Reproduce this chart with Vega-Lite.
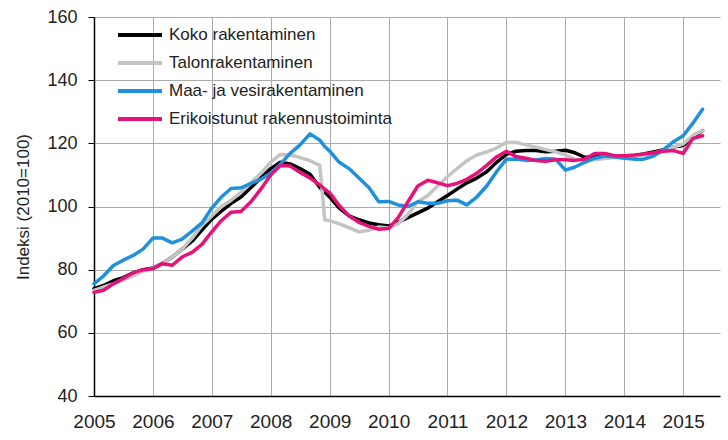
{
  "$schema": "https://vega.github.io/schema/vega-lite/v6.json",
  "autosize": {"type": "none"},
  "padding": {"left": 94, "top": 17, "right": 8, "bottom": 44},
  "width": 626,
  "height": 379,
  "background": "white",
  "config": {
    "view": {"stroke": null},
    "font": "Liberation Sans",
    "axis": {"gridColor": "#ABABAB", "gridWidth": 1, "domainColor": "#000000", "domainWidth": 1.5, "tickColor": "#000000", "labelColor": "#222222", "titleColor": "#222222"}
  },
  "data": {
    "values": [
      {"date": "2005-01-01", "Koko rakentaminen": 74, "Talonrakentaminen": 73.4, "Maa- ja vesirakentaminen": 75.5, "Erikoistunut rakennustoiminta": 72.8},
      {"date": "2005-03-01", "Koko rakentaminen": 75, "Talonrakentaminen": 74.5, "Maa- ja vesirakentaminen": 78, "Erikoistunut rakennustoiminta": 73.5},
      {"date": "2005-05-01", "Koko rakentaminen": 76.5, "Talonrakentaminen": 75.5, "Maa- ja vesirakentaminen": 81.3, "Erikoistunut rakennustoiminta": 75.5},
      {"date": "2005-07-01", "Koko rakentaminen": 77.5, "Talonrakentaminen": 76.8, "Maa- ja vesirakentaminen": 83, "Erikoistunut rakennustoiminta": 77.2},
      {"date": "2005-09-01", "Koko rakentaminen": 79, "Talonrakentaminen": 78, "Maa- ja vesirakentaminen": 84.5, "Erikoistunut rakennustoiminta": 79},
      {"date": "2005-11-01", "Koko rakentaminen": 80, "Talonrakentaminen": 79.5, "Maa- ja vesirakentaminen": 86.5, "Erikoistunut rakennustoiminta": 80},
      {"date": "2006-01-01", "Koko rakentaminen": 80.5, "Talonrakentaminen": 80.5, "Maa- ja vesirakentaminen": 90, "Erikoistunut rakennustoiminta": 80.3},
      {"date": "2006-03-01", "Koko rakentaminen": 82, "Talonrakentaminen": 82, "Maa- ja vesirakentaminen": 90, "Erikoistunut rakennustoiminta": 81.9},
      {"date": "2006-05-01", "Koko rakentaminen": 84, "Talonrakentaminen": 84, "Maa- ja vesirakentaminen": 88.5, "Erikoistunut rakennustoiminta": 81.4},
      {"date": "2006-07-01", "Koko rakentaminen": 86.5, "Talonrakentaminen": 86.5, "Maa- ja vesirakentaminen": 89.7, "Erikoistunut rakennustoiminta": 84},
      {"date": "2006-09-01", "Koko rakentaminen": 89, "Talonrakentaminen": 90, "Maa- ja vesirakentaminen": 92.2, "Erikoistunut rakennustoiminta": 85.5},
      {"date": "2006-11-01", "Koko rakentaminen": 92.5, "Talonrakentaminen": 94, "Maa- ja vesirakentaminen": 94.8, "Erikoistunut rakennustoiminta": 88},
      {"date": "2007-01-01", "Koko rakentaminen": 96, "Talonrakentaminen": 97, "Maa- ja vesirakentaminen": 99.5, "Erikoistunut rakennustoiminta": 92},
      {"date": "2007-03-01", "Koko rakentaminen": 98.5, "Talonrakentaminen": 100, "Maa- ja vesirakentaminen": 103, "Erikoistunut rakennustoiminta": 95.5},
      {"date": "2007-05-01", "Koko rakentaminen": 101, "Talonrakentaminen": 102, "Maa- ja vesirakentaminen": 105.7, "Erikoistunut rakennustoiminta": 98.2},
      {"date": "2007-07-01", "Koko rakentaminen": 103, "Talonrakentaminen": 104.5, "Maa- ja vesirakentaminen": 105.9, "Erikoistunut rakennustoiminta": 98.4},
      {"date": "2007-09-01", "Koko rakentaminen": 106, "Talonrakentaminen": 107.5, "Maa- ja vesirakentaminen": 107.3, "Erikoistunut rakennustoiminta": 101.5},
      {"date": "2007-11-01", "Koko rakentaminen": 109, "Talonrakentaminen": 110.5, "Maa- ja vesirakentaminen": 108.6, "Erikoistunut rakennustoiminta": 105.5},
      {"date": "2008-01-01", "Koko rakentaminen": 112, "Talonrakentaminen": 114, "Maa- ja vesirakentaminen": 110.5, "Erikoistunut rakennustoiminta": 110},
      {"date": "2008-03-01", "Koko rakentaminen": 114, "Talonrakentaminen": 116.5, "Maa- ja vesirakentaminen": 113.4, "Erikoistunut rakennustoiminta": 113},
      {"date": "2008-05-01", "Koko rakentaminen": 113.5, "Talonrakentaminen": 116.3, "Maa- ja vesirakentaminen": 116.8, "Erikoistunut rakennustoiminta": 112.8},
      {"date": "2008-07-01", "Koko rakentaminen": 112, "Talonrakentaminen": 115.5, "Maa- ja vesirakentaminen": 119.5, "Erikoistunut rakennustoiminta": 110.8},
      {"date": "2008-09-01", "Koko rakentaminen": 110.2, "Talonrakentaminen": 114.5, "Maa- ja vesirakentaminen": 123, "Erikoistunut rakennustoiminta": 109},
      {"date": "2008-11-01", "Koko rakentaminen": 106, "Talonrakentaminen": 113, "Maa- ja vesirakentaminen": 121, "Erikoistunut rakennustoiminta": 106.8},
      {"date": "2008-12-01", "Koko rakentaminen": 104.5, "Talonrakentaminen": 95.8, "Maa- ja vesirakentaminen": 119, "Erikoistunut rakennustoiminta": 105.5},
      {"date": "2009-01-01", "Koko rakentaminen": 103, "Talonrakentaminen": 95.5, "Maa- ja vesirakentaminen": 117.5, "Erikoistunut rakennustoiminta": 104.3},
      {"date": "2009-03-01", "Koko rakentaminen": 99.5, "Talonrakentaminen": 94.5, "Maa- ja vesirakentaminen": 114, "Erikoistunut rakennustoiminta": 100.3},
      {"date": "2009-05-01", "Koko rakentaminen": 97, "Talonrakentaminen": 93.3, "Maa- ja vesirakentaminen": 112, "Erikoistunut rakennustoiminta": 97},
      {"date": "2009-07-01", "Koko rakentaminen": 95.8, "Talonrakentaminen": 92, "Maa- ja vesirakentaminen": 109, "Erikoistunut rakennustoiminta": 95},
      {"date": "2009-09-01", "Koko rakentaminen": 94.8, "Talonrakentaminen": 92.5, "Maa- ja vesirakentaminen": 106, "Erikoistunut rakennustoiminta": 93.7},
      {"date": "2009-11-01", "Koko rakentaminen": 94.2, "Talonrakentaminen": 93.5, "Maa- ja vesirakentaminen": 101.5, "Erikoistunut rakennustoiminta": 92.8},
      {"date": "2010-01-01", "Koko rakentaminen": 93.8, "Talonrakentaminen": 93.2, "Maa- ja vesirakentaminen": 101.6, "Erikoistunut rakennustoiminta": 93},
      {"date": "2010-03-01", "Koko rakentaminen": 95, "Talonrakentaminen": 94.5, "Maa- ja vesirakentaminen": 100.5, "Erikoistunut rakennustoiminta": 96.5},
      {"date": "2010-05-01", "Koko rakentaminen": 96.5, "Talonrakentaminen": 97.5, "Maa- ja vesirakentaminen": 100, "Erikoistunut rakennustoiminta": 101.5},
      {"date": "2010-07-01", "Koko rakentaminen": 98, "Talonrakentaminen": 101.5, "Maa- ja vesirakentaminen": 101.5, "Erikoistunut rakennustoiminta": 106.5},
      {"date": "2010-09-01", "Koko rakentaminen": 99.5, "Talonrakentaminen": 103.5, "Maa- ja vesirakentaminen": 101, "Erikoistunut rakennustoiminta": 108.3},
      {"date": "2010-11-01", "Koko rakentaminen": 101.5, "Talonrakentaminen": 106.5, "Maa- ja vesirakentaminen": 101, "Erikoistunut rakennustoiminta": 107.5},
      {"date": "2011-01-01", "Koko rakentaminen": 103.5, "Talonrakentaminen": 109.5, "Maa- ja vesirakentaminen": 101.8, "Erikoistunut rakennustoiminta": 106.6},
      {"date": "2011-03-01", "Koko rakentaminen": 105.5, "Talonrakentaminen": 112, "Maa- ja vesirakentaminen": 102, "Erikoistunut rakennustoiminta": 107.3},
      {"date": "2011-05-01", "Koko rakentaminen": 107.5, "Talonrakentaminen": 114.5, "Maa- ja vesirakentaminen": 100.5, "Erikoistunut rakennustoiminta": 108.6},
      {"date": "2011-07-01", "Koko rakentaminen": 109, "Talonrakentaminen": 116.3, "Maa- ja vesirakentaminen": 103, "Erikoistunut rakennustoiminta": 110.5},
      {"date": "2011-09-01", "Koko rakentaminen": 111, "Talonrakentaminen": 117.3, "Maa- ja vesirakentaminen": 106.5, "Erikoistunut rakennustoiminta": 113},
      {"date": "2011-11-01", "Koko rakentaminen": 114, "Talonrakentaminen": 118.5, "Maa- ja vesirakentaminen": 111, "Erikoistunut rakennustoiminta": 115.7},
      {"date": "2012-01-01", "Koko rakentaminen": 116.5, "Talonrakentaminen": 120.3, "Maa- ja vesirakentaminen": 115, "Erikoistunut rakennustoiminta": 117.5},
      {"date": "2012-03-01", "Koko rakentaminen": 117.5, "Talonrakentaminen": 120.3, "Maa- ja vesirakentaminen": 115, "Erikoistunut rakennustoiminta": 115.8},
      {"date": "2012-05-01", "Koko rakentaminen": 117.7, "Talonrakentaminen": 119.5, "Maa- ja vesirakentaminen": 114.6, "Erikoistunut rakennustoiminta": 115.3},
      {"date": "2012-07-01", "Koko rakentaminen": 117.7, "Talonrakentaminen": 118.8, "Maa- ja vesirakentaminen": 114.7, "Erikoistunut rakennustoiminta": 114.6},
      {"date": "2012-09-01", "Koko rakentaminen": 117.3, "Talonrakentaminen": 118, "Maa- ja vesirakentaminen": 115.2, "Erikoistunut rakennustoiminta": 114.3},
      {"date": "2012-11-01", "Koko rakentaminen": 117.5, "Talonrakentaminen": 117.3, "Maa- ja vesirakentaminen": 115, "Erikoistunut rakennustoiminta": 114.8},
      {"date": "2013-01-01", "Koko rakentaminen": 117.8, "Talonrakentaminen": 116.3, "Maa- ja vesirakentaminen": 111.5, "Erikoistunut rakennustoiminta": 114.8},
      {"date": "2013-03-01", "Koko rakentaminen": 117, "Talonrakentaminen": 115, "Maa- ja vesirakentaminen": 112.5, "Erikoistunut rakennustoiminta": 114.6},
      {"date": "2013-05-01", "Koko rakentaminen": 115.6, "Talonrakentaminen": 114.6, "Maa- ja vesirakentaminen": 114, "Erikoistunut rakennustoiminta": 115},
      {"date": "2013-07-01", "Koko rakentaminen": 115.7, "Talonrakentaminen": 114.8, "Maa- ja vesirakentaminen": 115.3, "Erikoistunut rakennustoiminta": 116.8},
      {"date": "2013-09-01", "Koko rakentaminen": 116, "Talonrakentaminen": 115.2, "Maa- ja vesirakentaminen": 116, "Erikoistunut rakennustoiminta": 116.8},
      {"date": "2013-11-01", "Koko rakentaminen": 115.8, "Talonrakentaminen": 115.5, "Maa- ja vesirakentaminen": 115.7, "Erikoistunut rakennustoiminta": 116.1},
      {"date": "2014-01-01", "Koko rakentaminen": 115.7, "Talonrakentaminen": 115.8, "Maa- ja vesirakentaminen": 115.3, "Erikoistunut rakennustoiminta": 116.1},
      {"date": "2014-03-01", "Koko rakentaminen": 116, "Talonrakentaminen": 116, "Maa- ja vesirakentaminen": 115, "Erikoistunut rakennustoiminta": 116.3},
      {"date": "2014-05-01", "Koko rakentaminen": 116.6, "Talonrakentaminen": 116.3, "Maa- ja vesirakentaminen": 115, "Erikoistunut rakennustoiminta": 116.6},
      {"date": "2014-07-01", "Koko rakentaminen": 117.3, "Talonrakentaminen": 116.8, "Maa- ja vesirakentaminen": 116, "Erikoistunut rakennustoiminta": 117},
      {"date": "2014-09-01", "Koko rakentaminen": 118, "Talonrakentaminen": 117.8, "Maa- ja vesirakentaminen": 118, "Erikoistunut rakennustoiminta": 117.5},
      {"date": "2014-11-01", "Koko rakentaminen": 118.8, "Talonrakentaminen": 118.8, "Maa- ja vesirakentaminen": 120.5, "Erikoistunut rakennustoiminta": 117.7},
      {"date": "2015-01-01", "Koko rakentaminen": 119.3, "Talonrakentaminen": 119.8, "Maa- ja vesirakentaminen": 122.4, "Erikoistunut rakennustoiminta": 116.8},
      {"date": "2015-03-01", "Koko rakentaminen": 122, "Talonrakentaminen": 122.5, "Maa- ja vesirakentaminen": 126.3, "Erikoistunut rakennustoiminta": 121.5},
      {"date": "2015-05-01", "Koko rakentaminen": 124, "Talonrakentaminen": 124, "Maa- ja vesirakentaminen": 130.8, "Erikoistunut rakennustoiminta": 122.4}
    ]
  },
  "transform": [
    {"fold": ["Koko rakentaminen", "Talonrakentaminen", "Maa- ja vesirakentaminen", "Erikoistunut rakennustoiminta"], "as": ["sarja", "arvo"]}
  ],
  "mark": {"type": "line", "strokeWidth": 3.5, "strokeJoin": "round", "strokeCap": "round"},
  "encoding": {
    "x": {
      "field": "date", "type": "temporal",
      "scale": {"domain": [{"year": 2005, "month": 1, "date": 1}, {"year": 2015, "month": 8, "date": 17}]},
      "axis": {"title": null, "format": "%Y", "tickCount": {"interval": "year", "step": 1}, "labelFontSize": 19, "labelPadding": 16, "ticks": false, "grid": true, "labelFlush": false, "labelOverlap": false}
    },
    "y": {
      "field": "arvo", "type": "quantitative",
      "scale": {"domain": [40, 160], "nice": false, "zero": false},
      "axis": {"title": "Indeksi (2010=100)", "titleFontSize": 17, "titleFontWeight": "normal", "titlePadding": 14, "values": [40, 60, 80, 100, 120, 140, 160], "labelFontSize": 18, "tickSize": 6, "labelPadding": 11, "grid": true}
    },
    "color": {
      "field": "sarja", "type": "nominal",
      "scale": {
        "domain": ["Koko rakentaminen", "Talonrakentaminen", "Maa- ja vesirakentaminen", "Erikoistunut rakennustoiminta"],
        "range": ["#000000", "#C4C4C4", "#1E90DC", "#E5127A"]
      },
      "legend": {
        "title": null, "orient": "none", "legendX": 30, "legendY": 2,
        "symbolType": "M-1.57,0H1.57", "symbolStrokeWidth": 4, "symbolSize": 784,
        "labelFontSize": 17, "labelColor": "#222222", "rowPadding": 4, "labelOffset": 13,
        "labelLimit": 0
      }
    },
    "order": {"field": "date", "type": "temporal"}
  }
}
